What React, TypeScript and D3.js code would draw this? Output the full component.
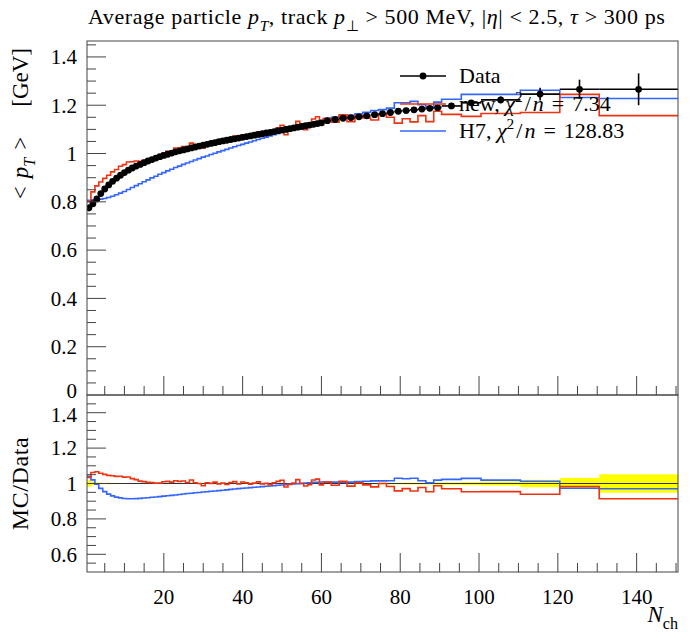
import { useEffect, useRef } from 'react';
import * as d3 from 'd3';

const W = 700;
const H = 632;
const FRAME = { left: 87, right: 678, top: 41, mid: 395, bottom: 572 };
const FONT = '"Liberation Serif", serif';
const RED = '#ee3311';
const BLUE = '#3366ff';

// bin edges in N_ch
const nchEdges = [
  0.5, 1.5, 2.5, 3.5, 4.5, 5.5, 6.5, 7.5, 8.5, 9.5, 10.5, 11.5, 12.5, 13.5, 14.5, 15.5, 16.5, 17.5, 18.5, 19.5,
  20.5, 21.5, 22.5, 23.5, 24.5, 25.5, 26.5, 27.5, 28.5, 29.5, 30.5, 31.5, 32.5, 33.5, 34.5, 35.5, 36.5, 37.5, 38.5, 39.5,
  40.5, 41.5, 42.5, 43.5, 44.5, 45.5, 46.5, 47.5, 48.5, 49.5, 50.5, 51.5, 52.5, 53.5, 54.5, 55.5, 56.5, 57.5, 58.5, 59.5,
  60.5, 62.5, 64.5, 66.5, 68.5, 70.5, 72.5, 74.5, 76.5, 78.5, 80.5, 82.5, 84.5, 86.5, 88.5, 90.5,
  95.5, 100.5, 110.5, 120.5, 130.5, 150.5,
];

// measured <pT> [GeV]
const dataMean = [
  0.775, 0.792, 0.812, 0.834, 0.853, 0.870, 0.885, 0.898, 0.910, 0.921,
  0.931, 0.940, 0.948, 0.955, 0.962, 0.969, 0.975, 0.981, 0.987, 0.992,
  0.997, 1.002, 1.007, 1.011, 1.015, 1.019, 1.023, 1.027, 1.031, 1.035,
  1.038, 1.042, 1.045, 1.049, 1.052, 1.055, 1.058, 1.061, 1.064, 1.067,
  1.070, 1.073, 1.076, 1.079, 1.082, 1.085, 1.088, 1.091, 1.094, 1.097,
  1.100, 1.103, 1.106, 1.109, 1.112, 1.115, 1.118, 1.121, 1.124, 1.127,
  1.136, 1.141, 1.146, 1.149, 1.152, 1.156, 1.161, 1.165, 1.170, 1.175,
  1.178, 1.181, 1.184, 1.187, 1.190,
  1.197, 1.210, 1.222, 1.246, 1.266, 1.266,
];

const dataErr = [
  0.014, 0.008, 0.005, 0.004, 0.003, 0.003, 0.003, 0.003, 0.002, 0.002,
  0.002, 0.002, 0.002, 0.002, 0.002, 0.002, 0.002, 0.002, 0.002, 0.002,
  0.002, 0.002, 0.002, 0.002, 0.002, 0.002, 0.002, 0.002, 0.002, 0.002,
  0.002, 0.002, 0.002, 0.002, 0.002, 0.002, 0.002, 0.002, 0.002, 0.002,
  0.003, 0.003, 0.003, 0.003, 0.003, 0.003, 0.003, 0.003, 0.003, 0.003,
  0.003, 0.003, 0.003, 0.003, 0.003, 0.003, 0.003, 0.003, 0.003, 0.003,
  0.003, 0.003, 0.003, 0.004, 0.004, 0.004, 0.004, 0.005, 0.005, 0.005,
  0.006, 0.006, 0.006, 0.007, 0.007,
  0.008, 0.010, 0.014, 0.026, 0.040, 0.066,
];

// "new" tune
const mcNew = [
  0.802, 0.841, 0.866, 0.882, 0.897, 0.910, 0.924, 0.934, 0.947, 0.954,
  0.965, 0.966, 0.969, 0.968, 0.972, 0.975, 0.980, 0.983, 0.990, 1.002,
  1.009, 1.010, 1.023, 1.023, 1.029, 1.025, 1.043, 1.031, 1.031, 1.022,
  1.042, 1.043, 1.053, 1.047, 1.054, 1.049, 1.064, 1.072, 1.061, 1.076,
  1.074, 1.069, 1.078, 1.089, 1.080, 1.086, 1.081, 1.096, 1.107, 1.117,
  1.078, 1.097, 1.109, 1.133, 1.112, 1.099, 1.111, 1.143, 1.152, 1.118,
  1.145, 1.130, 1.160, 1.132, 1.157, 1.147, 1.139, 1.165, 1.150, 1.126,
  1.144, 1.131, 1.157, 1.132, 1.175,
  1.162, 1.154, 1.166, 1.170, 1.245, 1.157,
];

// H7
const mcH7 = [
  0.806, 0.808, 0.809, 0.811, 0.814, 0.818, 0.823, 0.829, 0.836, 0.843,
  0.851, 0.859, 0.867, 0.875, 0.883, 0.891, 0.899, 0.906, 0.914, 0.921,
  0.928, 0.935, 0.942, 0.948, 0.955, 0.961, 0.967, 0.973, 0.979, 0.985,
  0.990, 0.996, 1.001, 1.007, 1.012, 1.017, 1.023, 1.028, 1.033, 1.038,
  1.043, 1.048, 1.053, 1.058, 1.063, 1.068, 1.073, 1.078, 1.083, 1.088,
  1.093, 1.098, 1.103, 1.108, 1.113, 1.118, 1.123, 1.128, 1.132, 1.137,
  1.145, 1.150, 1.155, 1.158, 1.164, 1.171, 1.178, 1.182, 1.188, 1.210,
  1.210, 1.216, 1.202, 1.192, 1.213,
  1.225, 1.245, 1.245, 1.262, 1.232, 1.228,
];

const mainTicks = [0, 0.2, 0.4, 0.6, 0.8, 1, 1.2, 1.4];
const mainTickLabels = ['0', '0.2', '0.4', '0.6', '0.8', '1', '1.2', '1.4'];
const ratioTicks = [0.6, 0.8, 1, 1.2, 1.4];
const ratioTickLabels = ['0.6', '0.8', '1', '1.2', '1.4'];
const xTicks = [20, 40, 60, 80, 100, 120, 140];
const xTickLabels = ['20', '40', '60', '80', '100', '120', '140'];

type Part = { t: string; it?: boolean; sub?: boolean; sup?: boolean; dx?: number };

function rich(text: any, parts: Part[], size: number) {
  let shift = 0;
  parts.forEach(p => {
    const target = p.sub ? size * 0.3 : p.sup ? -size * 0.4 : 0;
    const ts = text.append('tspan').attr('dy', target - shift).text(p.t);
    shift = target;
    if (p.dx) ts.attr('dx', p.dx);
    if (p.it) ts.attr('font-style', 'italic');
    if (p.sub || p.sup) ts.attr('font-size', size * 0.7);
  });
}

export default function App() {
  const svgRef = useRef<SVGSVGElement>(null);

  useEffect(() => {
    const svg = d3.select(svgRef.current);
    svg.selectAll('*').remove();

    const x = d3.scaleLinear().domain([0.5, 150.5]).range([FRAME.left, FRAME.right]);
    const yMain = d3.scaleLinear().domain([0, 1.466]).range([FRAME.mid, FRAME.top]);
    const yRatio = d3.scaleLinear().domain([0.5, 1.5]).range([FRAME.bottom, FRAME.mid]);

    const defs = svg.append('defs');
    defs.append('clipPath').attr('id', 'clip-main').append('rect')
      .attr('x', FRAME.left).attr('y', FRAME.top)
      .attr('width', FRAME.right - FRAME.left).attr('height', FRAME.mid - FRAME.top);
    defs.append('clipPath').attr('id', 'clip-ratio').append('rect')
      .attr('x', FRAME.left).attr('y', FRAME.mid)
      .attr('width', FRAME.right - FRAME.left).attr('height', FRAME.bottom - FRAME.mid);

    const stepPath = (vals: number[], y: d3.ScaleLinear<number, number>) => {
      let d = `M${x(nchEdges[0])},${y(vals[0])}`;
      vals.forEach((v, i) => {
        if (i > 0) d += `V${y(v)}`;
        d += `H${x(nchEdges[i + 1])}`;
      });
      return d;
    };

    // ---------- main panel ----------
    const gMain = svg.append('g').attr('clip-path', 'url(#clip-main)');
    gMain.append('path').attr('d', stepPath(mcH7, yMain))
      .attr('fill', 'none').attr('stroke', BLUE).attr('stroke-width', 1.6);
    gMain.append('path').attr('d', stepPath(mcNew, yMain))
      .attr('fill', 'none').attr('stroke', RED).attr('stroke-width', 1.6);

    const bins = dataMean.map((m, i) => ({
      lo: nchEdges[i], hi: nchEdges[i + 1], c: (nchEdges[i] + nchEdges[i + 1]) / 2, m, e: dataErr[i],
    }));
    gMain.selectAll('.hbar').data(bins).join('line')
      .attr('x1', d => x(d.lo)).attr('x2', d => x(d.hi))
      .attr('y1', d => yMain(d.m)).attr('y2', d => yMain(d.m))
      .attr('stroke', '#000').attr('stroke-width', 1.6);
    gMain.selectAll('.vbar').data(bins).join('line')
      .attr('x1', d => x(d.c)).attr('x2', d => x(d.c))
      .attr('y1', d => yMain(d.m - d.e)).attr('y2', d => yMain(d.m + d.e))
      .attr('stroke', '#000').attr('stroke-width', 1.6);
    gMain.selectAll('.pt').data(bins).join('circle')
      .attr('cx', d => x(d.c)).attr('cy', d => yMain(d.m)).attr('r', 3.4).attr('fill', '#000');

    // ---------- ratio panel ----------
    const gRatio = svg.append('g').attr('clip-path', 'url(#clip-ratio)');
    gRatio.selectAll('.band').data(bins).join('rect')
      .attr('x', d => x(d.lo)).attr('width', d => x(d.hi) - x(d.lo))
      .attr('y', d => yRatio(1 + d.e / d.m))
      .attr('height', d => yRatio(1 - d.e / d.m) - yRatio(1 + d.e / d.m))
      .attr('fill', '#ffff00');
    gRatio.append('line')
      .attr('x1', FRAME.left).attr('x2', FRAME.right)
      .attr('y1', yRatio(1)).attr('y2', yRatio(1))
      .attr('stroke', '#333').attr('stroke-width', 1.1);
    gRatio.append('path').attr('d', stepPath(mcH7.map((v, i) => v / dataMean[i]), yRatio))
      .attr('fill', 'none').attr('stroke', BLUE).attr('stroke-width', 1.6);
    gRatio.append('path').attr('d', stepPath(mcNew.map((v, i) => v / dataMean[i]), yRatio))
      .attr('fill', 'none').attr('stroke', RED).attr('stroke-width', 1.6);

    // ---------- frames and ticks ----------
    const frameCol = '#444';
    [[FRAME.top, FRAME.mid], [FRAME.mid, FRAME.bottom]].forEach(([t, b]) => {
      svg.append('rect').attr('x', FRAME.left).attr('y', t)
        .attr('width', FRAME.right - FRAME.left).attr('height', b - t)
        .attr('fill', 'none').attr('stroke', frameCol).attr('stroke-width', 1);
    });

    const tickG = svg.append('g').attr('stroke', frameCol).attr('stroke-width', 1);
    const xMinor = d3.range(5, 151, 5);
    [FRAME.mid, FRAME.bottom].forEach(yb => {
      xMinor.forEach(v => {
        const len = v % 20 === 0 ? 19 : 9;
        tickG.append('line').attr('x1', x(v)).attr('x2', x(v)).attr('y1', yb).attr('y2', yb - len);
      });
    });
    d3.range(0.05, 1.46, 0.05).forEach(v => {
      const major = Math.abs(v / 0.2 - Math.round(v / 0.2)) < 1e-6;
      tickG.append('line').attr('x1', FRAME.left).attr('x2', FRAME.left + (major ? 19 : 9))
        .attr('y1', yMain(v)).attr('y2', yMain(v));
    });
    d3.range(0.55, 1.5, 0.05).forEach(v => {
      const major = Math.abs(v / 0.2 - Math.round(v / 0.2)) < 1e-6;
      tickG.append('line').attr('x1', FRAME.left).attr('x2', FRAME.left + (major ? 19 : 9))
        .attr('y1', yRatio(v)).attr('y2', yRatio(v));
    });

    const labelG = svg.append('g').attr('font-family', FONT).attr('font-size', 21).attr('fill', '#000');
    mainTicks.forEach((v, i) => {
      labelG.append('text').attr('x', 77).attr('y', yMain(v) - (v === 0 ? 4 : 0)).attr('dy', '0.35em')
        .attr('text-anchor', 'end').text(mainTickLabels[i]);
    });
    ratioTicks.forEach((v, i) => {
      labelG.append('text').attr('x', 77).attr('y', yRatio(v) + (v === 1.4 ? 2 : 0)).attr('dy', '0.35em')
        .attr('text-anchor', 'end').text(ratioTickLabels[i]);
    });
    xTicks.forEach((v, i) => {
      labelG.append('text').attr('x', x(v)).attr('y', 604)
        .attr('text-anchor', 'middle').text(xTickLabels[i]);
    });

    // ---------- titles ----------
    const title = svg.append('text').attr('x', 88).attr('y', 24)
      .attr('font-family', FONT).attr('font-size', 22).attr('letter-spacing', 0.6);
    rich(title, [
      { t: 'Average particle ' }, { t: 'p', it: true }, { t: 'T', it: true, sub: true },
      { t: ', track ' }, { t: 'p', it: true }, { t: '⊥', sub: true },
      { t: ' > 500 MeV, |' }, { t: 'η', it: true }, { t: '| < 2.5, ' },
      { t: 'τ', it: true }, { t: ' > 300 ps' },
    ], 22);

    const yLab = svg.append('text').attr('transform', `translate(28,${FRAME.top + 7}) rotate(-90)`)
      .attr('text-anchor', 'end').attr('font-family', FONT).attr('font-size', 23);
    rich(yLab, [
      { t: '<' }, { t: 'p', it: true, dx: 8 }, { t: 'T', it: true, sub: true }, { t: '>', dx: 8 },
      { t: '[GeV]', dx: 30 },
    ], 23);

    svg.append('text').attr('transform', `translate(28,${yRatio(1)}) rotate(-90)`)
      .attr('text-anchor', 'middle').attr('font-family', FONT).attr('font-size', 24)
      .attr('letter-spacing', 0.6)
      .text('MC/Data');

    const xLab = svg.append('text').attr('x', FRAME.right).attr('y', 622)
      .attr('text-anchor', 'end').attr('font-family', FONT).attr('font-size', 23);
    rich(xLab, [{ t: 'N', it: true }, { t: 'ch', sub: true }], 23);

    // ---------- legend ----------
    const lg = svg.append('g').attr('font-family', FONT).attr('font-size', 22);
    const lx = 400;
    const rows = [76, 104, 131];
    lg.append('line').attr('x1', lx).attr('x2', lx + 46).attr('y1', rows[0]).attr('y2', rows[0])
      .attr('stroke', '#000').attr('stroke-width', 1.6);
    lg.append('circle').attr('cx', lx + 23).attr('cy', rows[0]).attr('r', 3.4).attr('fill', '#000');
    lg.append('text').attr('x', 459).attr('y', rows[0] + 7).text('Data');

    lg.append('line').attr('x1', lx).attr('x2', lx + 46).attr('y1', rows[1]).attr('y2', rows[1])
      .attr('stroke', RED).attr('stroke-width', 1.6);
    const t2 = lg.append('text').attr('x', 459).attr('y', rows[1] + 7);
    rich(t2, [
      { t: 'new, ' }, { t: 'χ', it: true }, { t: '2', sup: true }, { t: '/', dx: 2 },
      { t: 'n', it: true, dx: 2 }, { t: '=', dx: 8 }, { t: '7.34', dx: 8 },
    ], 22);

    lg.append('line').attr('x1', lx).attr('x2', lx + 46).attr('y1', rows[2]).attr('y2', rows[2])
      .attr('stroke', BLUE).attr('stroke-width', 1.6);
    const t3 = lg.append('text').attr('x', 459).attr('y', rows[2] + 7);
    rich(t3, [
      { t: 'H7, ' }, { t: 'χ', it: true }, { t: '2', sup: true }, { t: '/', dx: 2 },
      { t: 'n', it: true, dx: 2 }, { t: '=', dx: 8 }, { t: '128.83', dx: 8 },
    ], 22);
  }, []);

  return (
    <svg ref={svgRef} width={W} height={H}
      style={{ position: 'absolute', left: 0, top: 0, background: '#fff' }} />
  );
}
